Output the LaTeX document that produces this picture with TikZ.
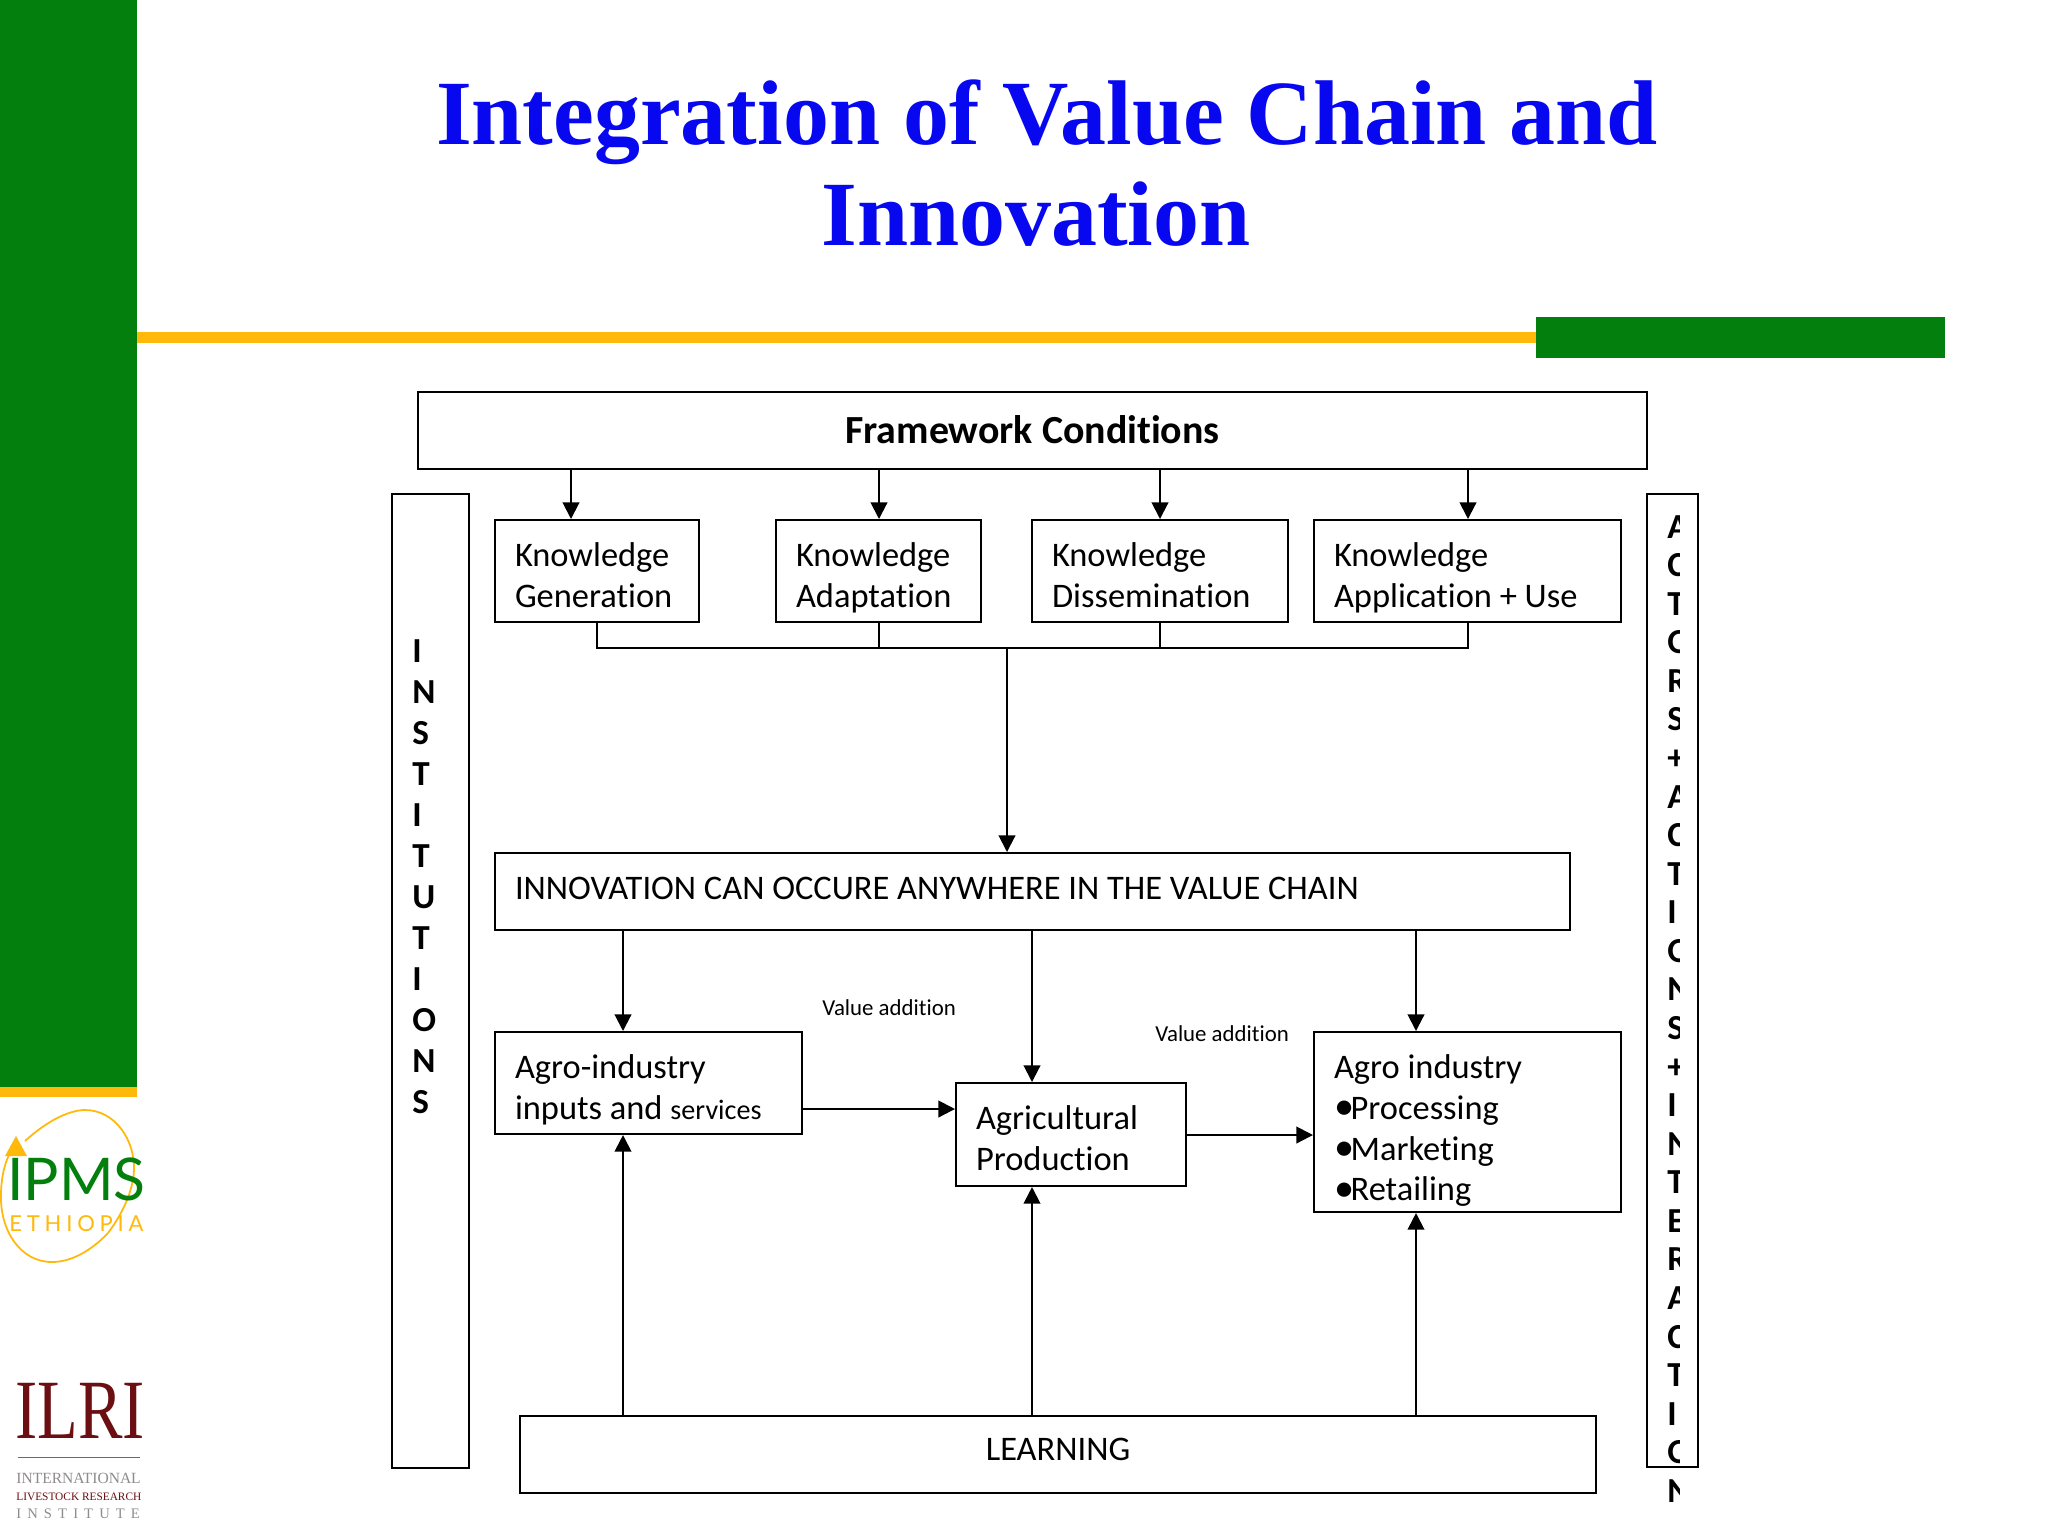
\documentclass[tikz,border=0pt]{standalone}
\usepackage{fontspec}
\setmainfont{Carlito}[Ligatures=NoCommon]
\newfontfamily\titlefont{Liberation Serif}
\newfontfamily\logosans{Lato}
\newfontfamily\logoserif{Liberation Serif}
\newfontfamily\logospaced[LetterSpace=42]{Liberation Serif}
\newfontfamily\logoeth[LetterSpace=22]{Lato}
\usetikzlibrary{arrows.meta}
\definecolor{barGreen}{HTML}{027F0C}
\definecolor{barYellow}{HTML}{FFB90B}
\definecolor{titleBlue}{HTML}{0808F0}
\definecolor{ilriRed}{HTML}{6B0F12}
\definecolor{ilriGray}{HTML}{8F8B8B}
\newcommand{\bodyfont}{\fontsize{19.6}{23.3}\selectfont}
\newcommand{\bul}{{\fontsize{23}{23.3}\selectfont\raisebox{-.5pt}{\textbullet}}\hspace{-2pt}}
\tikzset{
 x=0.02cm,y=-0.02cm,
 box/.style={draw=black,line width=1.15pt,anchor=north west,inner sep=0pt,align=flush left,font=\bodyfont},
 fixedsize/.style n args={2}{minimum width=#1*0.02cm,minimum height=#2*0.02cm,text width=(#1-40)*0.02cm},
 lower/.style={execute at begin node={\rule{0pt}{#1}}},
 upper/.style={execute at end node={\rule[-#1]{0pt}{#1}}},
 link/.style={draw=black,line width=1.15pt},
 arrowlink/.style={link,-{Triangle[length=9.5pt,width=9.5pt]}},
 small/.style={inner sep=0pt,font=\fontsize{13}{15}\selectfont},
 vertI/.style={inner sep=0pt,align=flush left,font=\fontsize{20}{23.33}\selectfont\bfseries},
 vertA/.style={inner sep=0pt,align=flush left,font=\fontsize{20}{21.95}\selectfont\bfseries},
 headline/.style={inner sep=0pt,anchor=base,text=titleBlue,font=\fontsize{52.3}{60}\selectfont\titlefont\bfseries},
}
\begin{document}
\begin{tikzpicture}
\useasboundingbox (0,0) rectangle (2048,1536);
\fill[white] (0,0) rectangle (2048,1536);
% slide furniture
\fill[barGreen] (0,0) rectangle (137,1087);
\fill[barYellow] (0,1087) rectangle (137,1097);
\fill[barYellow] (137,332) rectangle (1536,343);
\fill[barGreen] (1536,317) rectangle (1945,358);
\node[headline] (t1) at (1047,144) {Integration of Value Chain and};
\node[headline] (t2) at (1036,245) {Innovation};
% boxes
\node[box,fixedsize={1229}{77},align=flush center,upper=1.5pt,font=\fontsize{22.7}{27}\selectfont\bfseries] (fw) at (417,391) {Framework Conditions};
\node[box,minimum width=77*0.02cm,minimum height=974*0.02cm] (inst) at (391,493) {};
\node[box,minimum width=51*0.02cm,minimum height=973*0.02cm] (act) at (1646,493) {};
\node[box,fixedsize={204}{102},lower=25.3pt] (kg) at (494,519) {Knowledge\\Generation\strut};
\node[box,fixedsize={205}{102},lower=25.3pt] (ka) at (775,519) {Knowledge\\Adaptation\strut};
\node[box,fixedsize={256}{102},lower=25.3pt] (kd) at (1031,519) {Knowledge\\Dissemination\strut};
\node[box,fixedsize={307}{102},lower=25.3pt] (ku) at (1313,519) {Knowledge\\Application + Use\strut};
\node[box,fixedsize={1075}{77},upper=7.6pt] (inn) at (494,852) {\strut INNOVATION CAN OCCURE ANYWHERE IN THE VALUE CHAIN};
\node[box,fixedsize={307}{102},lower=25.3pt] (ai) at (494,1031) {Agro-industry\\inputs and {\fontsize{16}{23.3}\selectfont services}\strut};
\node[box,fixedsize={230}{103},lower=24.6pt] (ap) at (955,1082) {Agricultural\\Production\strut};
\node[box,fixedsize={307}{180},lower=23.3pt] (in) at (1313,1031) {Agro industry\\\bul Processing\\\bul Marketing\\\bul Retailing};
\node[box,fixedsize={1076}{77},align=flush center,upper=9.2pt] (lr) at (519,1415) {\strut LEARNING};
% labels
\node[small,anchor=west] (v1) at (822,1008) {Value addition};
\node[small,anchor=west] (v2) at (1155,1034) {Value addition};
% vertical text
\node[vertI,anchor=north west] (instT) at (412,639) {I\\N\\S\\T\\I\\T\\U\\T\\I\\O\\N\\S};
\begin{scope}
\clip (1600,494) rectangle (1679,1536);
\node[vertA,anchor=north west] (actT) at (1667,515) {A\\C\\T\\O\\R\\S\\+\\A\\C\\T\\I\\O\\N\\S\\+\\I\\N\\T\\E\\R\\A\\C\\T\\I\\O\\N};
\end{scope}
% guide coordinates
\coordinate (g1) at (571,0);
\coordinate (g2) at (879,0);
\coordinate (g3) at (1160,0);
\coordinate (g4) at (1468,0);
\coordinate (g5) at (597,0);
\coordinate (g6) at (1007,0);
\coordinate (g7) at (623,0);
\coordinate (g8) at (1032,0);
\coordinate (g9) at (1416,0);
\coordinate (h1) at (0,1109);
\coordinate (h2) at (0,1135);
\coordinate (busY) at (0,648);
% connectors
\draw[arrowlink] (fw.south -| g1) -- (kg.north -| g1);
\draw[arrowlink] (fw.south -| g2) -- (ka.north -| g2);
\draw[arrowlink] (fw.south -| g3) -- (kd.north -| g3);
\draw[arrowlink] (fw.south -| g4) -- (ku.north -| g4);
\draw[link] (kg.south -| g5) |- (busY -| g4) -- (ku.south -| g4);
\draw[link] (ka.south -| g2) -- (busY -| g2);
\draw[link] (kd.south -| g3) -- (busY -| g3);
\draw[arrowlink] (busY -| g6) -- (inn.north -| g6);
\draw[arrowlink] (inn.south -| g7) -- (ai.north -| g7);
\draw[arrowlink] (inn.south -| g8) -- (ap.north -| g8);
\draw[arrowlink] (inn.south -| g9) -- (in.north -| g9);
\draw[arrowlink] (lr.north -| g7) -- (ai.south -| g7);
\draw[arrowlink] (lr.north -| g8) -- (ap.south -| g8);
\draw[arrowlink] (lr.north -| g9) -- (in.south -| g9);
\draw[arrowlink] (ai.east |- h1) -- (ap.west |- h1);
\draw[arrowlink] (ap.east |- h2) -- (in.west |- h2);
% IPMS logo
\draw[barYellow,line width=1pt] (25,1141) .. controls (48,1120) and (70,1110) .. (85,1110) .. controls (115,1110) and (135,1140) .. (134,1170) .. controls (133,1195) and (118,1220) .. (108,1233) .. controls (90,1252) and (70,1262) .. (52,1262) .. controls (20,1262) and (0,1230) .. (1,1195) .. controls (1,1180) and (4,1165) .. (9,1155);
\fill[barYellow] (16,1136) -- (27,1156) -- (5,1156) -- cycle;
\node[inner sep=0pt,anchor=base west,text=barGreen,font=\fontsize{33.5}{40}\selectfont\logosans] (ipms) at (7,1200) {IPMS};
\node[inner sep=0pt,anchor=base west,text=barYellow,font=\fontsize{12.5}{15}\selectfont\logoeth] (eth) at (9,1231) {ETHIOPIA};
% ILRI logo
\node[inner sep=0pt,anchor=base west,text=ilriRed,font=\fontsize{48}{56}\selectfont\logoserif] (ilri) at (15,1438) {\scalebox{.79}[1]{ILRI}};
\draw[ilriRed!70,line width=.5pt] (18,1457) -- (140,1457);
\node[inner sep=0pt,anchor=base west,text=ilriGray,font=\fontsize{8.85}{10}\selectfont\logoserif] (il1) at (16,1483) {INTERNATIONAL};
\node[inner sep=0pt,anchor=base west,text=ilriRed,font=\fontsize{6.46}{10}\selectfont\logoserif] (il2) at (16,1500) {LIVESTOCK RESEARCH};
\node[inner sep=0pt,anchor=base west,text=ilriGray,font=\fontsize{8.3}{10}\selectfont\logospaced] (il3) at (16,1518) {INSTITUTE};
\end{tikzpicture}
\end{document}
